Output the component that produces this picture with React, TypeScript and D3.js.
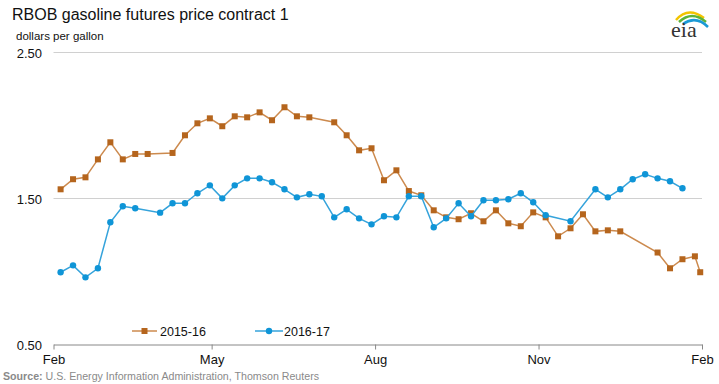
import React, { useEffect, useRef } from 'react';
import * as d3 from 'd3';

// weekly sample dates (shared season year, Feb -> Feb)
const dates = [
  '2015-02-05', '2015-02-12', '2015-02-19', '2015-02-26', '2015-03-05', '2015-03-12', '2015-03-19',
  '2015-03-26', '2015-04-02', '2015-04-09', '2015-04-16', '2015-04-23', '2015-04-30', '2015-05-07',
  '2015-05-14', '2015-05-21', '2015-05-28', '2015-06-04', '2015-06-11', '2015-06-18', '2015-06-25',
  '2015-07-02', '2015-07-09', '2015-07-16', '2015-07-23', '2015-07-30', '2015-08-06', '2015-08-13',
  '2015-08-20', '2015-08-27', '2015-09-03', '2015-09-10', '2015-09-17', '2015-09-24', '2015-10-01',
  '2015-10-08', '2015-10-15', '2015-10-22', '2015-10-29', '2015-11-05', '2015-11-12', '2015-11-19',
  '2015-11-26', '2015-12-03', '2015-12-10', '2015-12-17', '2015-12-24', '2015-12-31', '2016-01-07',
  '2016-01-14', '2016-01-21', '2016-01-28', '2016-01-31'
];

const series1516 = [
  1.563, 1.632, 1.645, 1.768, 1.885, 1.768, 1.805, 1.805, null, 1.812, 1.933, 2.015, 2.049, 1.995,
  2.063, 2.056, 2.090, 2.036, 2.125, 2.063, 2.056, null, 2.022, 1.933, 1.830, 1.844, 1.625, 1.693,
  1.551, 1.522, 1.419, 1.371, 1.358, 1.399, 1.344, 1.419, 1.330, 1.310, 1.405, 1.371, 1.241, 1.296,
  1.392, 1.275, 1.282, 1.275, null, null, 1.130, 1.022, 1.084, 1.104, 0.995
];

const series1617 = [
  0.995, 1.042, 0.960, 1.022, 1.337, 1.447, 1.433, null, 1.403, 1.467, 1.467, 1.536, 1.590, 1.501,
  1.590, 1.638, 1.638, 1.611, 1.563, 1.508, 1.529, 1.515, 1.371, 1.426, 1.364, 1.323, 1.378, 1.371,
  1.515, 1.515, 1.303, 1.364, 1.467, 1.378, 1.488, 1.488, 1.495, 1.536, 1.474, 1.385, null, 1.344,
  null, 1.563, 1.508, 1.563, 1.632, 1.666, 1.638, 1.618, 1.570, null, null
];

const yTicks = [0.5, 1.5, 2.5];
const monthTicks = ['2015-02-01', '2015-05-01', '2015-08-01', '2015-11-01', '2016-02-01'];
const monthLabels = ['Feb', 'May', 'Aug', 'Nov', 'Feb'];
const seriesNames = ['2015-16', '2016-17'];

const ORANGE = '#b5651d', ORANGE_LINE = '#cc8a4e';
const BLUE = '#0f95d7', BLUE_LINE = '#35a3db';

function Chart() {
  const ref = useRef<SVGSVGElement>(null);

  useEffect(() => {
    const svg = d3.select(ref.current);
    svg.selectAll('*').remove();
    const font = 'Arial, "Liberation Sans", sans-serif';
    const parse = d3.timeParse('%Y-%m-%d');

    const x = d3.scaleTime()
      .domain([parse('2015-02-01')!, parse('2016-02-01')!])
      .range([53.5, 702]);
    const y = d3.scaleLinear().domain([0.5, 2.5]).range([344.5, 52.5]);

    // title
    svg.append('text').attr('x', 12).attr('y', 20)
      .attr('font-family', font).attr('font-size', 16).attr('fill', '#111')
      .text('RBOB gasoline futures price contract 1');
    svg.append('text').attr('x', 16).attr('y', 40)
      .attr('font-family', font).attr('font-size', 11.5).attr('fill', '#111')
      .text('dollars per gallon');

    // gridlines + y labels
    svg.append('g').selectAll('line')
      .data(yTicks.filter(d => d > 0.5))
      .enter().append('line')
      .attr('x1', x.range()[0]).attr('x2', x.range()[1])
      .attr('y1', d => y(d)).attr('y2', d => y(d))
      .attr('stroke', '#d0d0d0').attr('stroke-width', 1);
    svg.append('g').selectAll('text')
      .data(yTicks)
      .enter().append('text')
      .attr('x', 42).attr('y', d => y(d) + 5)
      .attr('text-anchor', 'end')
      .attr('font-family', font).attr('font-size', 13).attr('fill', '#111')
      .text(d => d3.format('.2f')(d));

    // x axis
    const ax = svg.append('g').attr('transform', 'translate(0,344.5)')
      .call(d3.axisBottom(x)
        .tickValues(monthTicks.map(d => parse(d)!))
        .tickFormat((_d, i) => monthLabels[i])
        .tickSizeInner(5).tickSizeOuter(0).tickPadding(5));
    ax.select('.domain').attr('stroke', '#888');
    ax.selectAll('.tick line').attr('stroke', '#888');
    ax.selectAll('.tick text')
      .attr('font-family', font).attr('font-size', 13).attr('fill', '#111');

    // series
    const mk = (vals: (number | null)[]) =>
      dates.map((d, i) => ({ date: parse(d)!, v: vals[i] })).filter(p => p.v != null) as { date: Date; v: number }[];
    const line = d3.line<{ date: Date; v: number }>().x(p => x(p.date)).y(p => y(p.v));

    const a = mk(series1516);
    const b = mk(series1617);

    svg.append('path').datum(a).attr('d', line).attr('fill', 'none')
      .attr('stroke', ORANGE_LINE).attr('stroke-width', 1.5);
    svg.append('g').selectAll('rect').data(a).enter().append('rect')
      .attr('x', p => x(p.date) - 3).attr('y', p => y(p.v) - 3)
      .attr('width', 6).attr('height', 6).attr('fill', ORANGE);

    svg.append('path').datum(b).attr('d', line).attr('fill', 'none')
      .attr('stroke', BLUE_LINE).attr('stroke-width', 1.5);
    svg.append('g').selectAll('circle').data(b).enter().append('circle')
      .attr('cx', p => x(p.date)).attr('cy', p => y(p.v))
      .attr('r', 3.2).attr('fill', BLUE);

    // legend
    const lg = svg.append('g').attr('font-family', font).attr('font-size', 12.5).attr('fill', '#111');
    lg.append('line').attr('x1', 132).attr('x2', 157).attr('y1', 331).attr('y2', 331)
      .attr('stroke', ORANGE_LINE).attr('stroke-width', 1.5);
    lg.append('rect').attr('x', 141.5).attr('y', 328).attr('width', 6).attr('height', 6).attr('fill', ORANGE);
    lg.append('text').attr('x', 160).attr('y', 336).text(seriesNames[0]);
    lg.append('line').attr('x1', 255).attr('x2', 283).attr('y1', 331).attr('y2', 331)
      .attr('stroke', BLUE_LINE).attr('stroke-width', 1.5);
    lg.append('circle').attr('cx', 269).attr('cy', 331).attr('r', 3.2).attr('fill', BLUE);
    lg.append('text').attr('x', 284).attr('y', 336).text(seriesNames[1]);

    // source
    const src = svg.append('text').attr('x', 3).attr('y', 380)
      .attr('font-family', font).attr('font-size', 11.5).attr('fill', '#8a8a8a')
      .attr('textLength', 316).attr('lengthAdjust', 'spacingAndGlyphs');
    src.append('tspan').attr('font-weight', 'bold').text('Source: ');
    src.append('tspan').text('U.S. Energy Information Administration, Thomson Reuters');

    // eia logo
    const logo = svg.append('g');
    logo.append('path').attr('d', 'M676,20 Q688,6 704,18').attr('fill', 'none')
      .attr('stroke', '#f2c400').attr('stroke-width', 2.5);
    logo.append('path').attr('d', 'M679,22 Q692,10 706,22').attr('fill', 'none')
      .attr('stroke', '#5cb33a').attr('stroke-width', 2.5);
    logo.append('path').attr('d', 'M683,24 Q696,15 708,27').attr('fill', 'none')
      .attr('stroke', '#1a9ad6').attr('stroke-width', 2.5);
    logo.append('text').attr('x', 671).attr('y', 37)
      .attr('font-family', '"Liberation Serif", "DejaVu Serif", serif').attr('font-size', 22)
      .attr('fill', '#333').text('eia');
  }, []);

  return (
    <svg ref={ref} width={719} height={384}
      style={{ position: 'absolute', left: 0, top: 0, background: '#fff' }} />
  );
}

export default function App() {
  return <Chart />;
}
